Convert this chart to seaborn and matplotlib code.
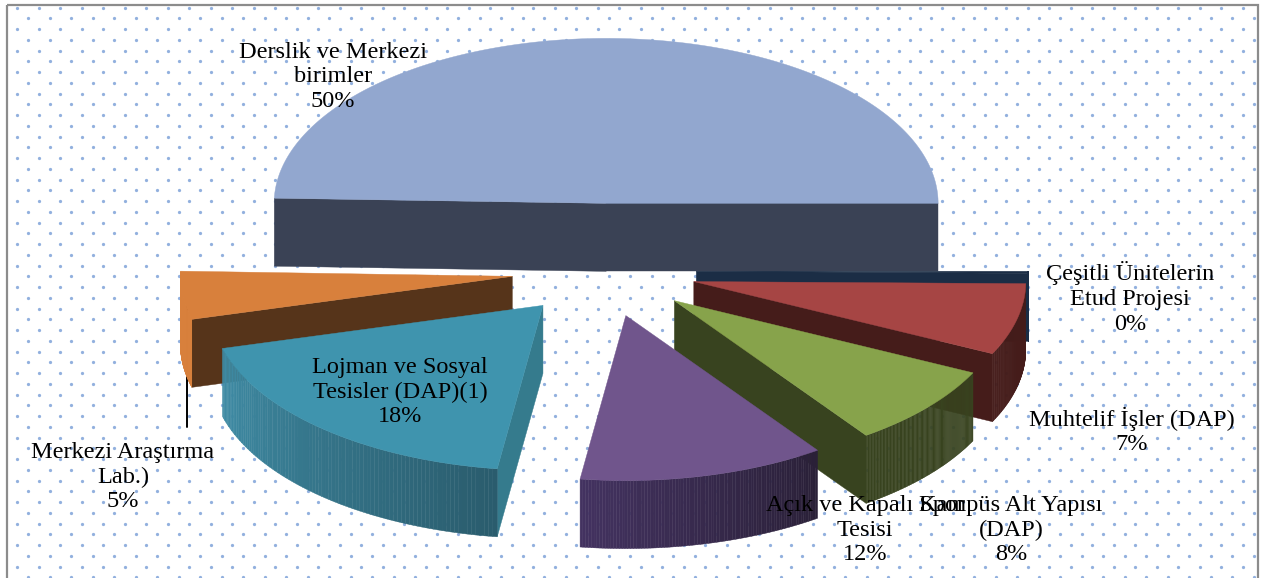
import numpy as np
import matplotlib
matplotlib.use("Agg")
import matplotlib.pyplot as plt
import matplotlib.colors as mc
from matplotlib.patches import Polygon, Rectangle
import seaborn as sns

# ---- data ----
categories = ["Derslik ve Merkezi\nbirimler", "Çeşitli Ünitelerin\nEtud Projesi", "Muhtelif İşler (DAP)",
              "Kampüs Alt Yapısı\n(DAP)", "Açık ve Kapalı Spor\nTesisi", "Lojman ve Sosyal\nTesisler (DAP)(1)",
              "Merkezi Araştırma\nLab.)"]
values = [49.5, 0.2, 7.0, 8.0, 12.0, 18.6, 4.7]
pct_labels = ["50%", "0%", "7%", "8%", "12%", "18%", "5%"]
explode = [0.41, 0.278, 0.278, 0.278, 0.278, 0.278, 0.278]

# ---- style ----
top_colors = ["#92A7CF", "#1B2D45", "#A64544", "#87A34B", "#70558C", "#3F94AE", "#D8803C"]
cut_colors = ["#3A4255", "#1B2D45", "#451C1A", "#38431F", "#2A2038", "#357B8D", "#56341A"]
side_left = ["#3A4255", "#1B2D45", "#451C1A", "#38431F", "#433260", "#3F8CA5", "#D8803C"]
side_right = ["#3A4255", "#1B2D45", "#451C1A", "#38431F", "#2A2038", "#2A5C6D", "#D8803C"]
draw_order = [0, 1, 2, 3, 4, 6, 5]
label_xy = [(333, 77), (1130, 298), (1132, 431), (1011, 530), (865, 530), (400, 392), (123, 477)]

W, H = 1265, 578
CX, CY, RX, RY, DEPTH = 604, 271, 332, 165, 68
START = 178.2

sns.set_theme(style="white")
plt.rcParams["font.family"] = ["Liberation Serif", "DejaVu Serif"]
fig = plt.figure(figsize=(W / 100, H / 100), dpi=100, facecolor="white")
ax = fig.add_axes([0, 0, 1, 1])
ax.set_xlim(0, W)
ax.set_ylim(H, 0)
ax.axis("off")

# dotted fill of the chart area
xs, ys = [], []
for i, y in enumerate(np.arange(7.5, H, 10.75)):
    for x in np.arange(6.8 if i % 2 else 17.3, W - 6, 21.5) + (21.5 if i % 2 else 0):
        xs.append(x)
        ys.append(y)
ax.scatter(xs, ys, s=5.5, color="#7FA3D9", linewidths=0, alpha=0.85, zorder=1)
ax.add_patch(Rectangle((7, 5), 1251, 620, fill=False, ec="#8C8C8C", lw=1.6, zorder=2))

# leader line of the Merkezi label
ax.plot([187, 187], [295, 427], color="black", lw=1.4, zorder=5)

# angular extents come from the values
fracs = np.array(values) / sum(values) * 360
bounds = START - np.concatenate([[0], np.cumsum(fracs)])

def rim(apex, a):
    a = np.radians(a)
    return np.column_stack([apex[0] + RX * np.cos(a), apex[1] - RY * np.sin(a)])

z = 10
for idx in draw_order:
    a1, a2 = bounds[idx], bounds[idx + 1]
    mid = np.radians((a1 + a2) / 2)
    apex = (CX + RX * explode[idx] * np.cos(mid), CY - RY * explode[idx] * np.sin(mid))
    shift = np.array([0, DEPTH])
    # radial cut faces that look at the viewer
    for a, vis in ((a1, np.cos(np.radians(a1)) < 0), (a2, np.cos(np.radians(a2)) > 0)):
        if vis:
            e = rim(apex, a)[0]
            ax.add_patch(Polygon([apex, e, e + shift, np.array(apex) + shift],
                                 fc=cut_colors[idx], ec=cut_colors[idx], lw=0.3, zorder=z))
    # outer wall, shaded in thin strips
    angs = np.linspace(a1, a2, 90)
    visible = angs[np.sin(np.radians(angs)) <= 0.03]
    if len(visible) > 1:
        pts = rim(apex, visible)
        c0, c1 = np.array(mc.to_rgb(side_left[idx])), np.array(mc.to_rgb(side_right[idx]))
        order = pts[:, 0].argsort()
        pts = pts[order]
        for j in range(len(pts) - 1):
            t = j / max(len(pts) - 2, 1)
            col = c0 * (1 - t) + c1 * t
            ax.add_patch(Polygon([pts[j], pts[j + 1], pts[j + 1] + shift, pts[j] + shift],
                                 fc=col, ec=col, lw=0.3, zorder=z))
    # top face
    ax.add_patch(Polygon(np.vstack([[apex], rim(apex, np.linspace(a1, a2, 200))]),
                         fc=top_colors[idx], ec=top_colors[idx], lw=0.3, zorder=z + 1))
    z += 2

for name, pct, (x, y) in zip(categories, pct_labels, label_xy):
    ax.text(x, y, f"{name}\n{pct}", ha="center", va="center", fontsize=17.5, color="black",
            linespacing=1.22, zorder=50)

fig.savefig("out.png", dpi=100, facecolor="white")
